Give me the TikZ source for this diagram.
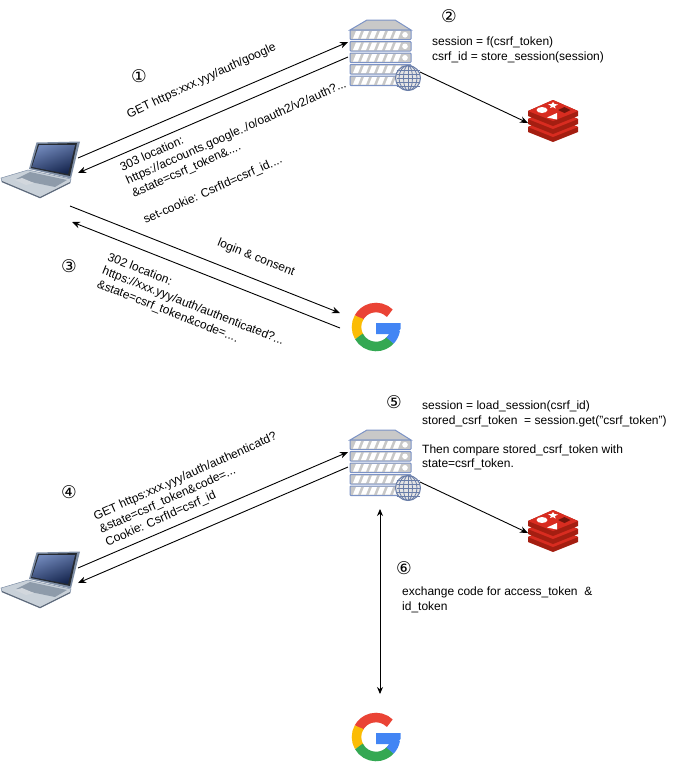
\documentclass[tikz,border=0pt]{standalone}
\usepackage{fontspec}
\setmainfont{Liberation Sans}
\newfontfamily\numfont{DejaVu Sans}
\usetikzlibrary{arrows.meta}
\definecolor{rackblue}{HTML}{7C93C5}
\definecolor{rackgrey}{HTML}{C8C8C8}
\definecolor{redistop}{HTML}{D82C20}
\definecolor{redisside}{HTML}{A41E11}
\definecolor{gred}{HTML}{EA4335}
\definecolor{gyellow}{HTML}{FBBC05}
\definecolor{ggreen}{HTML}{34A853}
\definecolor{gblue}{HTML}{4285F4}
\definecolor{lidgrey}{HTML}{7F8FA6}
\definecolor{basegrey}{HTML}{C9D1D9}
\definecolor{keygrey}{HTML}{8E9BAA}
\definecolor{screendark}{HTML}{16264F}
\definecolor{screenlight}{HTML}{6F86B8}
\tikzset{
    x=1pt, y=-1pt,
    flow/.style={black, line width=0.9pt, -{Stealth[length=8pt,width=6.5pt]}},
    msg/.style={font=\fontsize{12}{14.4}\selectfont, align=left, inner sep=0pt},
    stepnum/.style={font=\numfont\fontsize{17.5}{17.5}\selectfont, inner sep=0pt},
    iconbox/.style={inner sep=0pt, minimum size=1pt},
    laptopicon/.pic={
        % base and keyboard
        \filldraw[draw=lidgrey, fill=basegrey, line width=0.5pt] (-39,8) -- (-12,0) -- (31,9) -- (30,13) -- (0,28) -- (-38,12) -- cycle;
        \fill[keygrey] (-24,9) -- (-10,2) -- (27,10) -- (15,17) -- cycle;
        \fill[white!60!keygrey] (-25,10) -- (-18,8) -- (-6,13) -- (-14,15) -- cycle;
        \fill[lidgrey!70!black] (-38,11) -- (0,27) -- (30,12) -- (30,13) -- (0,28) -- (-38,12) -- cycle;
        % lid and screen
        \fill[lidgrey] (-3.5,-27.5) -- (40,-28.5) -- (31,8.5) -- (-11,-1) -- cycle;
        \fill[black!70!lidgrey] (-2,-26) -- (37,-27) -- (30,6) -- (-9,-2) -- cycle;
        \shade[left color=screenlight, right color=screendark, shading angle=20] (-1,-25) -- (35,-25) -- (28,4) -- (-8,-3) -- cycle;
    },
    servericon/.pic={
        \filldraw[draw=rackblue, fill=rackgrey, line width=1pt] (-30,-25) -- (-13,-35) -- (15,-35) -- (31,-25) -- cycle;
        \foreach \t in {-25, -13.5, -2, 9.5, 21} {
            \filldraw[draw=rackblue, fill=rackgrey, line width=1pt, rounded corners=0.8pt] (-30,\t) rectangle (31,\t+9.5);
            \foreach \s in {-27, -19, -11, -3, 5, 13} {
                \fill[white] (\s,\t+8.5) -- (\s+3,\t+1) -- (\s+8,\t+1) -- (\s+5,\t+8.5) -- cycle;
            }
            \fill[white] (25,\t+4.8) circle (2.8);
        }
        \filldraw[draw=rackblue!85!black, fill=rackgrey!50!white, line width=1pt] (28,23) circle (12.5pt);
        \foreach \r in {4.5pt, 9pt} {
            \draw[rackblue!85!black, line width=0.8pt] (28,23) circle[x radius=\r, y radius=12.5pt];
        }
        \foreach \d in {-8, -4, 0, 4, 8} {
            \draw[rackblue!85!black, line width=0.7pt] (16.5,23+\d) -- (39.5,23+\d);
        }
        \draw[rackblue!85!black, line width=0.8pt] (28,10.5) -- (28,35.5);
    },
    redisicon/.pic={
        \foreach \o in {16, 8, 0} {
            \fill[redisside] (-25,-10+\o) -- (0,-21+\o) -- (25,-10+\o) -- (25,-5+\o) -- (0,5+\o) -- (-25,-5+\o) -- cycle;
            \fill[redistop] (-25,-10+\o) -- (0,-21+\o) -- (25,-10+\o) -- (0,0+\o) -- cycle;
        }
        \fill[white] (-11,-11) ellipse (5.5 and 3);
        \fill[white] (0,-19) -- (1.5,-17) -- (5,-16.5) -- (2,-15) -- (2.5,-12.5) -- (0,-14) -- (-3,-13) -- (-2,-15) -- (-5,-17) -- (-1.5,-17) -- cycle;
        \fill[white] (-6,-3.5) -- (4,-8) -- (4,-1.5) -- cycle;
        \fill[redisside!70!black] (5,-11) -- (11.5,-14) -- (17.5,-11) -- (11.5,-8) -- cycle;
    },
    googleicon/.pic={
        \draw[gred, line width=9.5pt] (45:19.5pt) arc[start angle=45, end angle=152, radius=19.5pt];
        \draw[gyellow, line width=9.5pt] (150:19.5pt) arc[start angle=150, end angle=211, radius=19.5pt];
        \draw[ggreen, line width=9.5pt] (209:19.5pt) arc[start angle=209, end angle=318, radius=19.5pt];
        \draw[gblue, line width=9.5pt] (316:19.5pt) arc[start angle=316, end angle=352, radius=19.5pt];
        \fill[gblue] (0,-4) -- (24.5,-4) -- (24.5,2) -- (20,7) -- (0,7) -- cycle;
    },
}
\begin{document}
\begin{tikzpicture}
    \useasboundingbox (0,0) rectangle (680,764);
    % both rounds share laptop, server and redis
    \foreach \n/\dy in {1/0, 2/410} {
        \node[iconbox] (laptop\n) at (40,170+\dy) {};
        \node[iconbox] (server\n) at (380,55+\dy) {};
        \node[iconbox] (redis\n) at (553,121+\dy) {};
        \path (laptop\n) pic {laptopicon};
        \path (server\n) pic {servericon};
        \path (redis\n) pic {redisicon};
        \coordinate (sendfrom\n) at (78,158+\dy);
        \coordinate (sendto\n) at (348,42+\dy);
        \coordinate (backfrom\n) at (348,57+\dy);
        \coordinate (backto\n) at (78,173+\dy);
        \coordinate (storefrom\n) at (420,72+\dy);
        \coordinate (storeto\n) at (528,123+\dy);
        \draw[flow] (sendfrom\n) -- (sendto\n);
        \draw[flow] (backfrom\n) -- (backto\n);
        \draw[flow] (storefrom\n) -- (storeto\n);
    }
    \node[iconbox] (google1) at (376,327) {};
    \node[iconbox] (google2) at (376,737) {};
    \path (google1) pic {googleicon};
    \path (google2) pic {googleicon};

    \coordinate (loginfrom) at (70,206);
    \coordinate (loginto) at (340,313);
    \coordinate (authfrom) at (340,328);
    \coordinate (authto) at (72,222);
    \coordinate (codeup) at (380,509);
    \coordinate (codedown) at (380,694);
    \draw[flow] (loginfrom) -- (loginto);
    \draw[flow] (authfrom) -- (authto);
    \draw[flow, {Stealth[length=7pt,width=6pt]}-{Stealth[length=7pt,width=6pt]}] (codeup) -- (codedown);

    % step numbers
    \foreach \m/\x/\y/\t in {a/139/76/①, b/449/16/②, c/69/266/③, d/69/492/④, e/394/402/⑤, f/404/568/⑥} {
        \node[stepnum] (step\m) at (\x,\y) {\t};
    }

    % messages
    \node[msg, rotate=25] (getauth) at (201.5,81) {GET https:xxx.yyy/auth/google};
    \node[msg, rotate=24, anchor=north west] (location) at (118.5,163) {303 location:\\ https://accounts.google../o/oauth2/v2/auth?...\\ \&state=csrf\_token\&....\\[14.4pt] set-cookie: CsrfId=csrf\_id....};
    \node[msg, rotate=-22, anchor=center] (consent) at (256,258) {login \& consent};
    \node[msg, rotate=-21.5, anchor=north west] (redirect) at (110,252) {302 location:\\ https://xxx.yyy/auth/authenticated?...\\ \&state=csrf\_token\&code=....};
    \node[msg, rotate=24, anchor=north west] (callback) at (92,512) {GET https:xxx.yyy/auth/authenticatd?\\ \&state=csrf\_token\&code=...\\ Cookie: CsrfId=csrf\_id};
    \node[msg, anchor=north west] (sessionnew) at (432,37) {session = f(csrf\_token)\\ csrf\_id = store\_session(session)};
    \node[msg, anchor=north west] (sessionload) at (422,401) {session = load\_session(csrf\_id)\\ stored\_csrf\_token~ = session.get("csrf\_token")\\[14.4pt] Then compare stored\_csrf\_token with\\ state=csrf\_token.};
    \node[msg, anchor=north west] (exchange) at (402,587) {exchange code for access\_token~ \&\\ id\_token};
\end{tikzpicture}
\end{document}
